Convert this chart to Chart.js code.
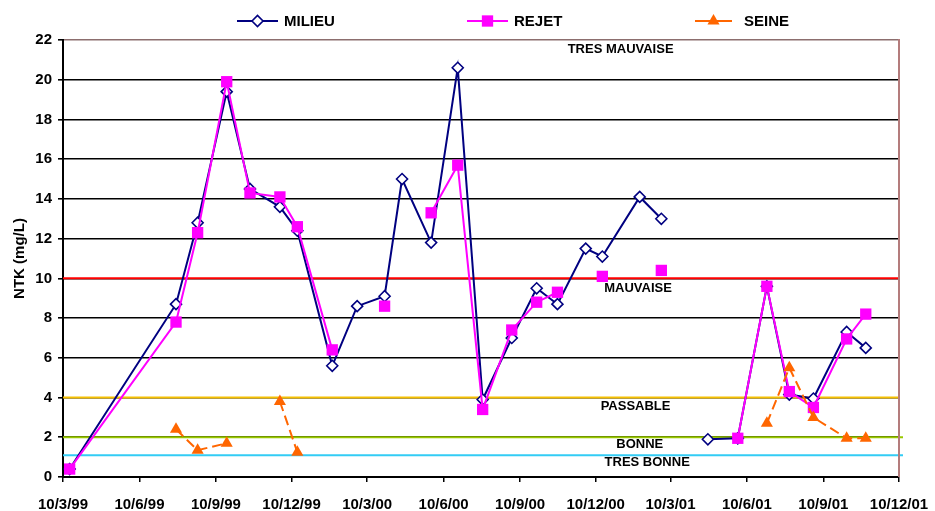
<!DOCTYPE html>
<html><head><meta charset="utf-8">
<script src="https://cdn.jsdelivr.net/npm/chart.js@4"></script>
<style>html,body{margin:0;padding:0;background:#fff;}canvas{display:block;}</style>
</head><body>
<canvas id="c" width="935" height="511"></canvas>
<script>
// ---- data ----
const sampleDates = ['1999-03-18','1999-07-24','1999-08-19','1999-09-23','1999-10-21','1999-11-26','1999-12-17',
  '2000-01-28','2000-02-27','2000-03-31','2000-04-21','2000-05-26','2000-06-27','2000-07-27','2000-08-31',
  '2000-09-30','2000-10-25','2000-11-28','2000-12-18','2001-02-01','2001-02-27','2001-03-28','2001-04-24',
  '2001-05-30','2001-07-04','2001-07-31','2001-08-29','2001-10-08','2001-10-31'];
const milieu = [0.4, 8.7, 12.8, 19.4, 14.5, 13.6, 12.4,
  5.6, 8.6, 9.1, 15.0, 11.8, 20.6, 3.9, 7.0,
  9.5, 8.7, 11.5, 11.1, 14.1, 13.0, null, 1.9,
  1.95, 9.6, 4.15, 3.95, 7.3, 6.5];
const rejet = [0.4, 7.8, 12.3, 19.9, 14.3, 14.1, 12.6,
  6.4, null, 8.6, null, 13.3, 15.7, 3.4, 7.4,
  8.8, 9.3, null, 10.1, null, 10.4, null, null,
  1.95, 9.6, 4.3, 3.5, 6.95, 8.2];
const seine = [null, 2.4, 1.35, 1.7, null, 3.8, 1.25,
  null, null, null, null, null, null, null, null,
  null, null, null, null, null, null, null, null,
  null, 2.7, 5.5, 3.0, 1.95, 1.95];
const seriesNames = ['MILIEU', 'REJET', 'SEINE'];
const tickDates = ['1999-03-10','1999-06-10','1999-09-10','1999-12-10','2000-03-10','2000-06-10',
  '2000-09-10','2000-12-10','2001-03-10','2001-06-10','2001-09-10','2001-12-10'];
const tickLabels = ['10/3/99','10/6/99','10/9/99','10/12/99','10/3/00','10/6/00',
  '10/9/00','10/12/00','10/3/01','10/6/01','10/9/01','10/12/01'];
const thresholds = [10, 4, 2, 1.1];
const zoneLabels = ['TRES MAUVAISE', 'MAUVAISE', 'PASSABLE', 'BONNE', 'TRES BONNE'];

// ---- helpers ----
const origin = Date.UTC(1999, 2, 10);
function dayOf(s) { const p = s.split('-').map(Number); return (Date.UTC(p[0], p[1] - 1, p[2]) - origin) / 86400000; }
const xs = sampleDates.map(dayOf);
const tickDays = tickDates.map(dayOf);
const toPts = arr => arr.map((v, i) => ({ x: xs[i], y: v }));

const FONT = '"Liberation Sans", Arial, sans-serif';
Chart.defaults.font.family = FONT;
Chart.defaults.color = '#000';

function marker(ctx, style, x, y, r) {
  ctx.beginPath();
  if (style === 'rectRot') { ctx.moveTo(x - r, y); ctx.lineTo(x, y - r); ctx.lineTo(x + r, y); ctx.lineTo(x, y + r); ctx.closePath(); }
  else if (style === 'rect') { const s = Math.SQRT1_2 * r; ctx.rect(x - s, y - s, 2 * s, 2 * s); }
  else if (style === 'triangle') {
    for (let k = 0; k < 3; k++) { const a = k * 2 * Math.PI / 3; const px = x + Math.sin(a) * r, py = y - Math.cos(a) * r; k ? ctx.lineTo(px, py) : ctx.moveTo(px, py); }
    ctx.closePath();
  }
}

const thresholdPlugin = {
  id: 'thresholds',
  beforeDatasetsDraw(chart, args, opts) {
    const { ctx, chartArea } = chart; const ys = chart.scales.y;
    ctx.save();
    thresholds.forEach((v, i) => {
      const y = ys.getPixelForValue(v);
      ctx.strokeStyle = opts.colors[i]; ctx.lineWidth = 2;
      ctx.beginPath(); ctx.moveTo(chartArea.left, y); ctx.lineTo(chartArea.right + opts.ext[i], y); ctx.stroke();
    });
    ctx.font = 'bold 13px ' + FONT; ctx.fillStyle = '#000'; ctx.textAlign = 'center'; ctx.textBaseline = 'middle';
    zoneLabels.forEach((t, i) => {
      const p = opts.labelPos[i];
      ctx.fillText(t, chart.scales.x.getPixelForValue(p.x), ys.getPixelForValue(p.y));
    });
    ctx.restore();
  },
  afterDraw(chart, args, opts) {
    const { ctx, chartArea } = chart;
    ctx.save();
    ctx.strokeStyle = opts.rightBorder; ctx.lineWidth = 2;
    ctx.beginPath(); ctx.moveTo(chartArea.right, chartArea.top - 1); ctx.lineTo(chartArea.right, chartArea.bottom); ctx.stroke();
    ctx.restore();
  }
};

const legendPlugin = {
  id: 'customLegend',
  afterDraw(chart, args, opts) {
    const ctx = chart.ctx;
    ctx.save();
    opts.items.forEach((it, i) => {
      const ds = chart.data.datasets[i];
      ctx.setLineDash([]);
      ctx.strokeStyle = ds.borderColor; ctx.lineWidth = ds.borderWidth;
      ctx.beginPath(); ctx.moveTo(it.x0, opts.y); ctx.lineTo(it.x1, opts.y); ctx.stroke();
      marker(ctx, ds.pointStyle, (it.x0 + it.x1) / 2, opts.y, ds.pointRadius);
      ctx.fillStyle = ds.pointBackgroundColor; ctx.fill();
      if (ds.pointBorderWidth > 0) { ctx.strokeStyle = ds.pointBorderColor; ctx.lineWidth = ds.pointBorderWidth; ctx.stroke(); }
      ctx.font = 'bold 15px ' + FONT; ctx.fillStyle = '#000'; ctx.textAlign = 'left'; ctx.textBaseline = 'middle';
      ctx.fillText(seriesNames[i], it.tx, opts.y + 1);
    });
    ctx.restore();
  }
};

new Chart(document.getElementById('c'), {
  type: 'line',
  data: {
    datasets: [
      { label: seriesNames[0], data: toPts(milieu), borderColor: '#000080', borderWidth: 2, tension: 0,
        pointStyle: 'rectRot', pointRadius: 5.5, pointBackgroundColor: '#ffffff', pointBorderColor: '#000080', pointBorderWidth: 1.6, order: 3 },
      { label: seriesNames[1], data: toPts(rejet), borderColor: '#FF00FF', borderWidth: 2, tension: 0,
        pointStyle: 'rect', pointRadius: 8, pointBackgroundColor: '#FF00FF', pointBorderColor: '#FF00FF', pointBorderWidth: 0, order: 2 },
      { label: seriesNames[2], data: toPts(seine), borderColor: '#FF6600', borderWidth: 2, borderDash: [10, 5], tension: 0,
        pointStyle: 'triangle', pointRadius: 7, pointBackgroundColor: '#FF6600', pointBorderColor: '#FF6600', pointBorderWidth: 0, order: 1 }
    ]
  },
  options: {
    responsive: false, animation: false, devicePixelRatio: 1, events: [],
    layout: { padding: { top: 40, right: 36, left: 0, bottom: 0 } },
    plugins: {
      legend: { display: false }, tooltip: { enabled: false },
      thresholds: {
        colors: ['#FF0000', '#F5C000', '#99C800', '#33CCF5'], ext: [0, 0, 4, 4], rightBorder: '#B47C7C',
        labelPos: [{ x: 671, y: 21.55 }, { x: 692, y: 9.5 }, { x: 689, y: 3.55 }, { x: 694, y: 1.63 }, { x: 703, y: 0.72 }]
      },
      customLegend: { y: 21, items: [{ x0: 237, x1: 278, tx: 284 }, { x0: 467, x1: 508, tx: 514 }, { x0: 695, x1: 732, tx: 744 }] }
    },
    scales: {
      x: {
        type: 'linear', min: 0, max: tickDays[tickDays.length - 1],
        afterBuildTicks: s => { s.ticks = tickDays.map(v => ({ value: v })); },
        afterFit: s => { s.height = 34; s.paddingLeft = 0; s.paddingRight = 0; },
        ticks: { autoSkip: false, maxRotation: 0, minRotation: 0, padding: 14, font: { size: 15, weight: 'bold' },
          callback: (v, i) => tickLabels[i] },
        grid: { drawOnChartArea: false, drawTicks: true, tickLength: 5, color: '#000', lineWidth: 1.5 },
        border: { display: true, color: '#000', width: 2 }
      },
      y: {
        min: 0, max: 22,
        afterFit: s => { s.width = 63; },
        ticks: { stepSize: 2, padding: 6, font: { size: 15, weight: 'bold' } },
        grid: { color: c => (c.tick && c.tick.value === 22) ? '#8C6E6E' : '#000', lineWidth: 1.6, tickLength: 5, tickColor: '#000' },
        border: { display: true, color: '#000', width: 2 },
        title: { display: true, text: 'NTK (mg/L)', font: { size: 15, weight: 'bold' }, padding: { top: 11, bottom: 0 } }
      }
    }
  },
  plugins: [thresholdPlugin, legendPlugin]
});
</script>
</body></html>
